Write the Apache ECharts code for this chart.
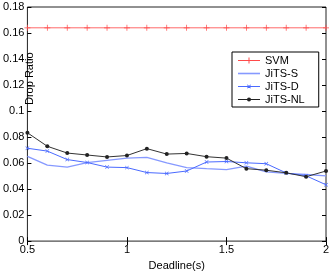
<!DOCTYPE html>
<html>
<head>
<meta charset="utf-8">
<script src="https://cdn.jsdelivr.net/npm/echarts@6/dist/echarts.min.js"></script>
<style>
html,body{margin:0;padding:0;background:#fff;}
#c{width:333px;height:276px;}
</style>
</head>
<body>
<div id="c"></div>
<script>
var deadlines = [0.5, 0.6, 0.7, 0.8, 0.9, 1.0, 1.1, 1.2, 1.3, 1.4, 1.5, 1.6, 1.7, 1.8, 1.9, 2.0];
var svm    = [0.164, 0.164, 0.164, 0.164, 0.164, 0.164, 0.164, 0.164, 0.164, 0.164, 0.164, 0.164, 0.164, 0.164, 0.164, 0.164];
var jitsS  = [0.0651, 0.0584, 0.0569, 0.0604, 0.0621, 0.0638, 0.0644, 0.0602, 0.0565, 0.0557, 0.0550, 0.0577, 0.0532, 0.0520, 0.0512, 0.0502];
var jitsD  = [0.0714, 0.0692, 0.0627, 0.0604, 0.0569, 0.0565, 0.0527, 0.0520, 0.0539, 0.0608, 0.0612, 0.0602, 0.0595, 0.0524, 0.0502, 0.0433];
var jitsNL = [0.0833, 0.0729, 0.0677, 0.0662, 0.0647, 0.0658, 0.0711, 0.0669, 0.0674, 0.0649, 0.0638, 0.0557, 0.0545, 0.0525, 0.0495, 0.0539];
var seriesNames = ['SVM', 'JiTS-S', 'JiTS-D', 'JiTS-NL'];
var xTicks = [0.5, 1, 1.5, 2];
var yTicks = [0, 0.02, 0.04, 0.06, 0.08, 0.1, 0.12, 0.14, 0.16, 0.18];

function pairs(vals) { return deadlines.map(function (d, i) { return [d, vals[i]]; }); }
var plusPath = 'path://M4.4,0H5.6V4.4H10V5.6H5.6V10H4.4V5.6H0V4.4H4.4Z';
var font = 'Liberation Sans, Arial, sans-serif';

var legendIcons = [
  'path://M0,4.6H10.5V2H11.5V4.6H22V5.4H11.5V8H10.5V5.4H0Z',
  'path://M0,4.2H22V5.8H0Z',
  'path://M0,4.6H22V5.4H0Z M9,3.6L9.6,3L13,6.4L12.4,7Z M12.4,3L13,3.6L9.6,7L9,6.4Z',
  'path://M0,4.6H22V5.4H0Z M13,5A2,2,0,1,1,9,5A2,2,0,1,1,13,5Z'
];

var chart = echarts.init(document.getElementById('c'), null, {renderer: 'canvas'});
var tickStyle = {show: true, inside: true, length: 4, lineStyle: {color: '#000', width: 1}};
chart.setOption({
  animation: false,
  backgroundColor: '#fff',
  grid: {left: 21, right: 7, top: 7, bottom: 28, show: true, borderColor: '#222', borderWidth: 1, backgroundColor: 'transparent'},
  legend: {
    orient: 'vertical', left: 232, top: 52,
    data: seriesNames.map(function (n, i) { return {name: n, icon: legendIcons[i]}; }),
    itemWidth: 22, itemHeight: 8, itemGap: 2,
    symbolKeepAspect: true,
    padding: [3, 14, 2, 6],
    borderColor: '#000', borderWidth: 1, backgroundColor: '#fff',
    textStyle: {fontFamily: font, fontSize: 11, color: '#000'}
  },
  xAxis: [{
    type: 'value', min: xTicks[0], max: xTicks[xTicks.length - 1], interval: 0.5,
    name: 'Deadline(s)', nameLocation: 'middle', nameGap: 17,
    nameTextStyle: {fontFamily: font, fontSize: 11, color: '#000'},
    axisLine: {show: false}, axisTick: tickStyle, splitLine: {show: false},
    axisLabel: {fontFamily: font, fontSize: 11, color: '#000', margin: 3}
  }, {
    type: 'value', position: 'top', min: xTicks[0], max: xTicks[xTicks.length - 1], interval: 0.5,
    axisLine: {show: false}, axisTick: tickStyle, splitLine: {show: false}, axisLabel: {show: false}
  }],
  yAxis: [{
    type: 'value', min: 0, max: 0.18, interval: 0.02,
    axisLine: {show: false}, axisTick: tickStyle, splitLine: {show: false},
    axisLabel: {fontFamily: font, fontSize: 11, color: '#000', margin: 3}
  }, {
    type: 'value', position: 'right', min: 0, max: 0.18, interval: 0.02,
    axisLine: {show: false}, axisTick: tickStyle, splitLine: {show: false}, axisLabel: {show: false}
  }],
  graphic: [{
    type: 'text', x: 24, y: 105, rotation: Math.PI / 2,
    style: {text: 'Drop Ratio', fontFamily: font, fontSize: 11, fill: '#000', align: 'left', verticalAlign: 'top'}
  }],
  series: [{
    name: seriesNames[0], type: 'line', data: pairs(svm),
    symbol: plusPath, symbolSize: 6, showAllSymbol: true,
    lineStyle: {color: '#ff6a6a', width: 1}, itemStyle: {color: '#ff4a4a'}
  }, {
    name: seriesNames[1], type: 'line', data: pairs(jitsS),
    symbol: 'none',
    lineStyle: {color: '#8699ff', width: 1.3}, itemStyle: {color: '#8699ff'}
  }, {
    name: seriesNames[2], type: 'line', data: pairs(jitsD),
    symbol: plusPath, symbolRotate: 45, symbolSize: 5,
    lineStyle: {color: '#4a6aff', width: 1}, itemStyle: {color: '#4a6aff'}
  }, {
    name: seriesNames[3], type: 'line', data: pairs(jitsNL),
    symbol: 'circle', symbolSize: 4,
    lineStyle: {color: '#333', width: 1}, itemStyle: {color: '#222'}
  }]
});
</script>
</body>
</html>
